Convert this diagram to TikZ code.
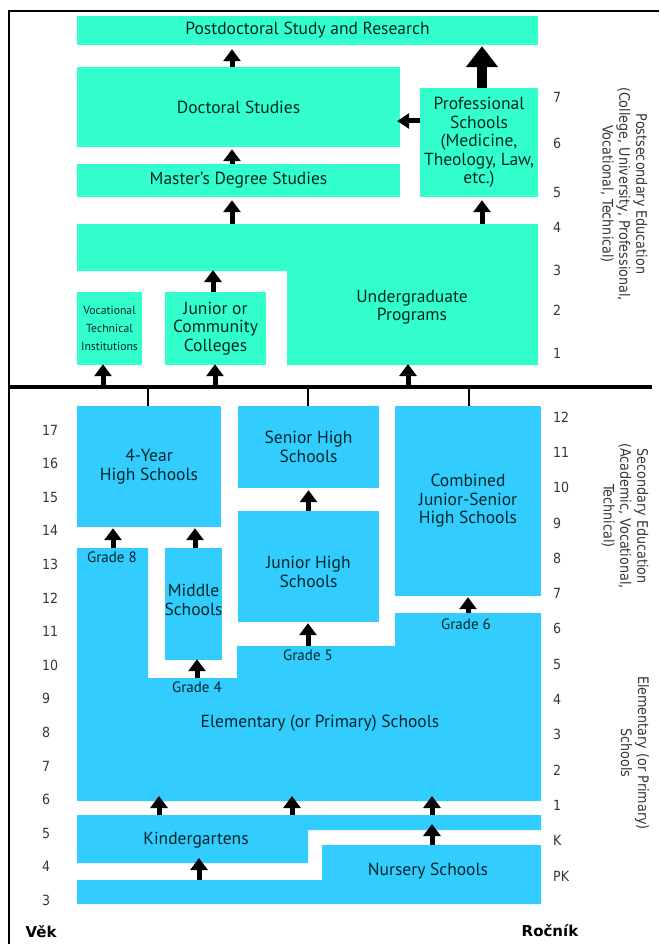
\documentclass[tikz,border=0pt]{standalone}
\usepackage{fontspec}
\setmainfont{PT Sans}
\newfontfamily\sidefont[FakeStretch=0.88]{DejaVu Sans}
\newfontfamily\numfont[FakeStretch=0.9]{DejaVu Sans}
\newfontfamily\boldlab{DejaVu Sans}
\usetikzlibrary{arrows.meta}
\definecolor{tealA}{RGB}{51,255,204}
\definecolor{blueA}{RGB}{51,204,255}
\definecolor{txtA}{RGB}{0,40,40}
\definecolor{numA}{RGB}{55,55,55}
\begin{document}
\begin{tikzpicture}[x=1pt,y=-1pt,
  mainfont/.style={font=\fontsize{17.5}{18.5}\selectfont},
  tbox/.style={fill=tealA,draw=none,inner sep=0pt,text=txtA,align=center,mainfont},
  bbox/.style={fill=blueA,draw=none,inner sep=0pt,text=txtA,align=center,mainfont},
  lbl/.style={text=txtA,align=center,inner sep=0pt,mainfont},
  gradelbl/.style={text=txtA,inner sep=0pt,font=\fontsize{15}{16}\selectfont},
  arr/.style={line width=5pt,-{Triangle[width=17pt,length=12pt]}},
  bigarr/.style={line width=10pt,-{Triangle[width=31pt,length=21pt]}},
  sidearr/.style={line width=5pt,-{Triangle[width=15pt,length=12pt]}},
  sidetext/.style={text=numA,align=center,inner sep=0pt,font=\sidefont\fontsize{14.5}{16.8}\selectfont},
  numlbl/.style={text=numA,anchor=west,inner sep=0pt,font=\numfont\fontsize{14}{15}\selectfont},
  corner/.style={text=black,inner sep=0pt,font=\boldlab\bfseries\fontsize{15}{17}\selectfont}
]
\useasboundingbox (0,0) rectangle (659,944);
\fill[white] (0,0) rectangle (659,944);
% frame
\draw[line width=2pt] (9,944) -- (9,11) -- (659,11);

% ---------- postsecondary ----------
\node[tbox,minimum width=461pt,minimum height=29pt] (postdoc) at (307.5,30.5) {Postdoctoral Study and Research};
\node[tbox,minimum width=323pt,minimum height=80pt] (doc) at (238.5,107) {Doctoral Studies};
\node[tbox,minimum width=323pt,minimum height=33pt] (mast) at (238.5,180.5) {Master's Degree Studies};
\node[tbox,minimum width=118pt,minimum height=109pt] (prof) at (479,142.5) {Professional\\Schools\\(Medicine,\\Theology, Law,\\etc.)};
\fill[tealA] (77,224) -- (538,224) -- (538,365) -- (287,365) -- (287,271) -- (77,271) -- cycle;
\node[lbl] (ug) at (412,307) {Undergraduate\\Programs};
\node[tbox,minimum width=65pt,minimum height=73pt,font=\fontsize{11.7}{18}\selectfont] (voc) at (109.5,328.5) {Vocational\\Technical\\Institutions};
\node[tbox,minimum width=101pt,minimum height=73pt] (jcc) at (215.5,328.5) {Junior or\\Community\\Colleges};

% arrow end points
\coordinate (ugTopL) at (232,224);
\coordinate (ugTopR) at (482,224);
\coordinate (ugBotL) at (213,271);
\coordinate (ugBot) at (408,365);
\coordinate (hlA) at (103,387);
\coordinate (hlB) at (215,387);
\coordinate (hlC) at (408,387);

\draw[arr] (doc.north -| ugTopL) -- ([yshift=-4pt]postdoc.south -| ugTopL);
\draw[bigarr] (prof.north -| ugTopR) -- ([yshift=-1pt]postdoc.south -| ugTopR);
\draw[sidearr] (prof.west |- 0,121) -- ([xshift=-3pt]doc.east |- 0,121);
\draw[arr] (mast.north -| ugTopL) -- ([yshift=-2pt]doc.south -| ugTopL);
\draw[arr] (ugTopL) -- ([yshift=-3pt]mast.south -| ugTopL);
\draw[arr] (ugTopR) -- ([yshift=-3pt]prof.south -| ugTopR);
\draw[arr] (jcc.north -| ugBotL) -- ([yshift=1pt]ugBotL);
\draw[arr] (hlA) -- ([yshift=1pt]voc.south -| hlA);
\draw[arr] (hlB) -- ([yshift=1pt]jcc.south -| hlB);
\draw[arr] (hlC) -- ([yshift=1pt]ugBot);

% separator
\coordinate (sepL) at (9,387);
\coordinate (sepR) at (652,387);
\draw[line width=3.5pt] (sepL) -- (sepR);

% ---------- secondary ----------
\node[bbox,minimum width=144pt,minimum height=121pt] (fyhs) at (149,466.5) {4-Year\\High Schools};
\node[bbox,minimum width=141pt,minimum height=82pt] (shs) at (308.5,447) {Senior High\\Schools};
\node[bbox,minimum width=146pt,minimum height=190pt] (comb) at (468,501) {Combined\\Junior-Senior\\High Schools};
\node[bbox,minimum width=141pt,minimum height=111pt] (jhs) at (308.5,566.5) {};
\node[lbl] (jhst) at (308.5,572) {Junior High\\Schools};
\node[bbox,minimum width=57pt,minimum height=112pt] (mid) at (193.5,604) {};
\node[lbl] (midt) at (193.5,600) {Middle\\Schools};

\draw[line width=2pt] (148,387) -- (fyhs.north -| 148,0);
\draw[line width=2pt] (308,387) -- (shs.north -| 308,0);
\draw[line width=2pt] (469,387) -- (comb.north -| 469,0);

% elementary
\fill[blueA] (77,548) -- (148,548) -- (148,678) -- (237,678) -- (237,646) -- (395,646) -- (395,613) -- (541,613) -- (541,801) -- (77,801) -- cycle;
\node[lbl] (elem) at (320,723) {Elementary (or Primary) Schools};
\node[gradelbl] (g8) at (112,557) {Grade 8};
\node[gradelbl] (g4) at (197,687) {Grade 4};
\node[gradelbl] (g5) at (308,655) {Grade 5};
\node[gradelbl] (g6) at (466,624) {Grade 6};

\coordinate (e8) at (113,548);
\coordinate (eM) at (195,548);
\coordinate (e4) at (197,678);
\coordinate (e5) at (308,646);
\coordinate (e6) at (468,613);
\draw[arr] (e8) -- ([yshift=-1pt]fyhs.south -| e8);
\draw[arr] (eM) -- ([yshift=-1pt]fyhs.south -| eM);
\draw[arr] (jhs.north) -- ([yshift=-2pt]shs.south);
\draw[arr] (e5) -- ([yshift=-1pt]jhs.south -| e5);
\draw[arr] (e4) -- ([yshift=1pt]mid.south -| e4);
\draw[arr] (e6) -- ([yshift=-1pt]comb.south -| e6);

% kindergarten & nursery
\fill[blueA] (77,815) -- (541,815) -- (541,830) -- (308,830) -- (308,863) -- (77,863) -- cycle;
\fill[blueA] (322,845) -- (541,845) -- (541,904) -- (77,904) -- (77,880) -- (322,880) -- cycle;
\node[lbl] (kg) at (196,840) {Kindergartens};
\node[lbl] (ns) at (428,871) {Nursery Schools};

\coordinate (k1) at (159,815);
\coordinate (k2) at (292,815);
\coordinate (k3) at (432,815);
\coordinate (eb1) at (159,796);
\coordinate (eb2) at (292,796);
\coordinate (eb3) at (432,796);
\draw[arr] (k1) -- (eb1);
\draw[arr] (k2) -- (eb2);
\draw[arr] (k3) -- (eb3);
\coordinate (n1) at (432,845);
\coordinate (kb1) at (432,824);
\draw[arr] (n1) -- (kb1);
\coordinate (n2) at (199,880);
\coordinate (kb2) at (199,858);
\draw[arr] (n2) -- (kb2);

% ---------- numbers ----------
\foreach \a [count=\i from 0] in {17,16,15,14,13,12,11,10,9,8,7,6,5,4,3}
  \node[numlbl] (age\a) at (42,{430+33.6*\i}) {\a};
\foreach \g [count=\i from 0] in {12,11,10,9,8,7,6,5,4,3,2,1,K,PK}
  \node[numlbl] (gr\i) at (553,{417+35.3*\i}) {\g};
\foreach \g/\yy in {7/97,6/143,5/192,4/227,3/270,2/310,1/353}
  \node[numlbl] (pg\g) at (553,\yy) {\g};

% ---------- side titles ----------
\node[sidetext,rotate=-90] (tps) at (624,194) {Postsecondary Education\\(College, University, Professional,\\Vocational, Technical)};
\node[sidetext,rotate=-90] (tsec) at (625,516) {Secondary Education\\(Academic, Vocational,\\Technical)};
\node[sidetext,rotate=-90] (tel) at (635,753) {Elementary (or Primary)\\Schools};

\node[corner] (vek) at (41,932) {Věk};
\node[corner] (rocnik) at (550,931) {Ročník};
\end{tikzpicture}
\end{document}
